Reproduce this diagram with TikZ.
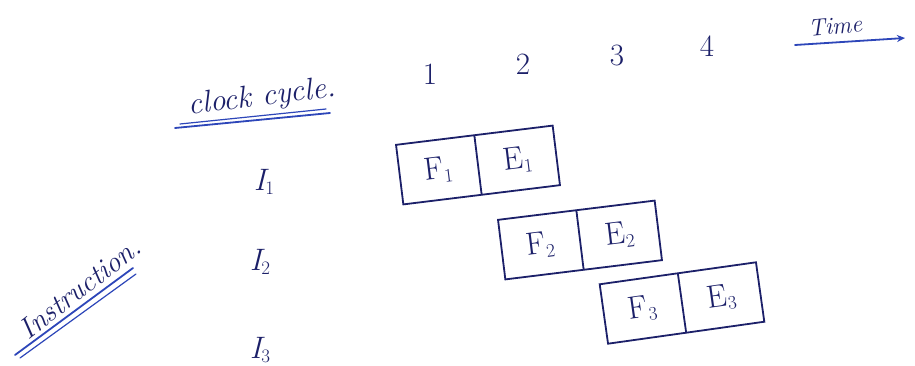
\documentclass[tikz,border=0pt]{standalone}
\usetikzlibrary{shapes.multipart,arrows.meta}
\definecolor{ink}{RGB}{28,32,105}
\definecolor{uline}{RGB}{45,70,185}
\newcommand\lowix[1]{\raisebox{-0.3ex}{\fontsize{19}{22}\selectfont\upshape #1}}
\tikzset{
  hand/.style={text=ink,font=\fontsize{31}{36}\selectfont\itshape,inner sep=1pt},
  digit/.style={text=ink,font=\fontsize{31}{36}\selectfont,inner sep=1pt},
  stagebox/.style={draw=ink,line width=1.8pt,rectangle split,rectangle split horizontal,
    rectangle split parts=2,text=ink,font=\fontsize{32}{36}\selectfont,
    text width=74pt,align=center,minimum height=60pt,inner sep=2pt},
  pen/.style={draw=uline,line width=1.8pt,line cap=round}
}
\begin{document}
\begin{tikzpicture}[x=1pt,y=-1pt]
\useasboundingbox[fill=white] (0,0) rectangle (915,366);

% column header and cycle numbers
\node[hand,rotate=7] (clk) at (262,98) {clock cycle.};
\draw[pen] (175,128) -- (330,113);
\draw[pen,line width=1.2pt] (180,124) -- (326,109);
\node[digit] (c1) at (430,74) {1};
\node[digit] (c2) at (523,64) {2};
\node[digit] (c3) at (617,56) {3};
\node[digit] (c4) at (707,46) {4};
\node[hand,rotate=5,font=\fontsize{24}{28}\selectfont\itshape] (time) at (835,26) {Time};
\coordinate (ts) at (795,45);
\coordinate (te) at (905,38);
\draw[pen,-{Stealth[length=8pt,width=7pt]}] (ts) -- (te);

% row header and instruction names
\node[hand,rotate=38,font=\fontsize{29}{34}\selectfont\itshape] (ins) at (80,288) {Instruction.};
\draw[pen] (15,355) -- (133,268);
\draw[pen,line width=1.2pt] (20,358) -- (136,274);
\node[hand] (i1) at (264,182) {I\lowix{1}};
\node[hand] (i2) at (260,262) {I\lowix{2}};
\node[hand] (i3) at (260,350) {I\lowix{3}};

% fetch / execute stages
\node[stagebox,rotate=7] (b1) at (478,165) {F\lowix{1}\nodepart{two}E\lowix{1}};
\node[stagebox,rotate=7] (b2) at (580,240) {F\lowix{2}\nodepart{two}E\lowix{2}};
\node[stagebox,rotate=8] (b3) at (682,303) {F\lowix{3}\nodepart{two}E\lowix{3}};
\end{tikzpicture}
\end{document}
